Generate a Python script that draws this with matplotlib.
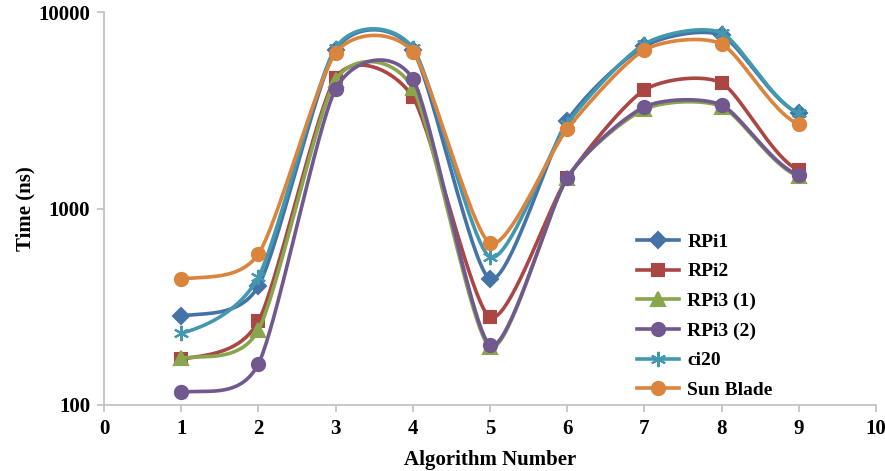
import numpy as np
import matplotlib
matplotlib.use("Agg")
from matplotlib import pyplot as plt

plt.rcParams['font.family'] = ['Liberation Serif', 'DejaVu Serif']
plt.rcParams['font.weight'] = 'bold'

algorithms = [1, 2, 3, 4, 5, 6, 7, 8, 9]
rpi1 = [284, 403, 6400, 6400, 438, 2790, 6700, 7600, 3060]
rpi2 = [171, 267, 4620, 3690, 280, 1430, 4010, 4350, 1570]
rpi3_1 = [173, 241, 4500, 4100, 197, 1430, 3200, 3300, 1460]
rpi3_2 = [116, 162, 4050, 4560, 202, 1430, 3290, 3360, 1480]
ci20 = [232, 448, 6560, 6560, 566, 2700, 6870, 7820, 3060]
sun_blade = [438, 587, 6180, 6260, 667, 2540, 6410, 6870, 2690]

series = [
    ("RPi1", rpi1, "#4572A7", "D", 8.5),
    ("RPi2", rpi2, "#AA4643", "s", 8.5),
    ("RPi3 (1)", rpi3_1, "#89A54E", "^", 9.5),
    ("RPi3 (2)", rpi3_2, "#71588F", "o", 9.5),
    ("ci20", ci20, "#4198AF", (6, 2, 0), 11),
    ("Sun Blade", sun_blade, "#DB843D", "o", 9.5),
]

TENSION = 0.7


def smooth(x, y, n=40):
    # catmull-rom through the points, done in log space like excel's smoothed line
    x = np.asarray(x, float)
    ly = np.log10(y)
    px = np.concatenate([[2*x[0]-x[1]], x, [2*x[-1]-x[-2]]])
    py = np.concatenate([[2*ly[0]-ly[1]], ly, [2*ly[-1]-ly[-2]]])
    k = TENSION/6
    xs, ys = [], []
    for i in range(1, len(px)-2):
        t = np.linspace(0, 1, n)
        p0, p1, p2, p3 = px[i-1], px[i], px[i+1], px[i+2]
        q0, q1, q2, q3 = py[i-1], py[i], py[i+1], py[i+2]
        bx = [p1, p1+(p2-p0)*k, p2-(p3-p1)*k, p2]
        by = [q1, q1+(q2-q0)*k, q2-(q3-q1)*k, q2]
        if i == 1:
            bx[1], by[1] = p1+(p2-p1)/3, q1+(q2-q1)*k
        if i == len(px)-3:
            bx[2], by[2] = p2-(p2-p1)/3, q2-(q2-q1)*k
        b = [(1-t)**3, 3*(1-t)**2*t, 3*(1-t)*t**2, t**3]
        xs.append(sum(c*w for c, w in zip(bx, b)))
        ys.append(sum(c*w for c, w in zip(by, b)))
    return np.concatenate(xs), 10**np.concatenate(ys)


fig = plt.figure(figsize=(8.85, 4.71), dpi=100)
ax = fig.add_axes([104/885, 1-405/471, (876-104)/885, (405-12)/471])

for name, vals, col, mk, ms in series:
    sx, sy = smooth(algorithms, vals)
    ax.plot(sx, sy, color=col, lw=2.6, solid_capstyle='round')
    ax.plot(algorithms, vals, ls='none', marker=mk, ms=ms, color=col,
            mec=col, mew=1.5)
    ax.plot([], [], color=col, lw=2.6, marker=mk, ms=ms, mec=col, mew=1.5, label=name)

ax.set_yscale('log')
ax.set_ylim(100, 10000)
ax.set_xlim(0, 10)
ax.set_xticks(range(11))
ax.set_yticks([100, 1000, 10000])
ax.set_yticklabels(['100', '1000', '10000'])
ax.yaxis.set_minor_locator(matplotlib.ticker.NullLocator())

for s in ['top', 'right']:
    ax.spines[s].set_visible(False)
for s in ['left', 'bottom']:
    ax.spines[s].set_color('#BFBFBF')
    ax.spines[s].set_linewidth(1.2)
ax.tick_params(axis='both', colors='#BFBFBF', length=5, width=1.2,
               labelcolor='black', labelsize=15, pad=5)

ax.set_xlabel('Algorithm Number', fontsize=15, fontweight='bold', labelpad=8)
ax.set_ylabel('Time (ns)', fontsize=15, fontweight='bold', labelpad=2)

leg = ax.legend(loc='lower left', bbox_to_anchor=(0.69, 0.015), frameon=False,
                fontsize=14, handlelength=2.2, labelspacing=0.62, handletextpad=0.4,
                borderpad=0, borderaxespad=0)

fig.savefig('out.png', dpi=100)
